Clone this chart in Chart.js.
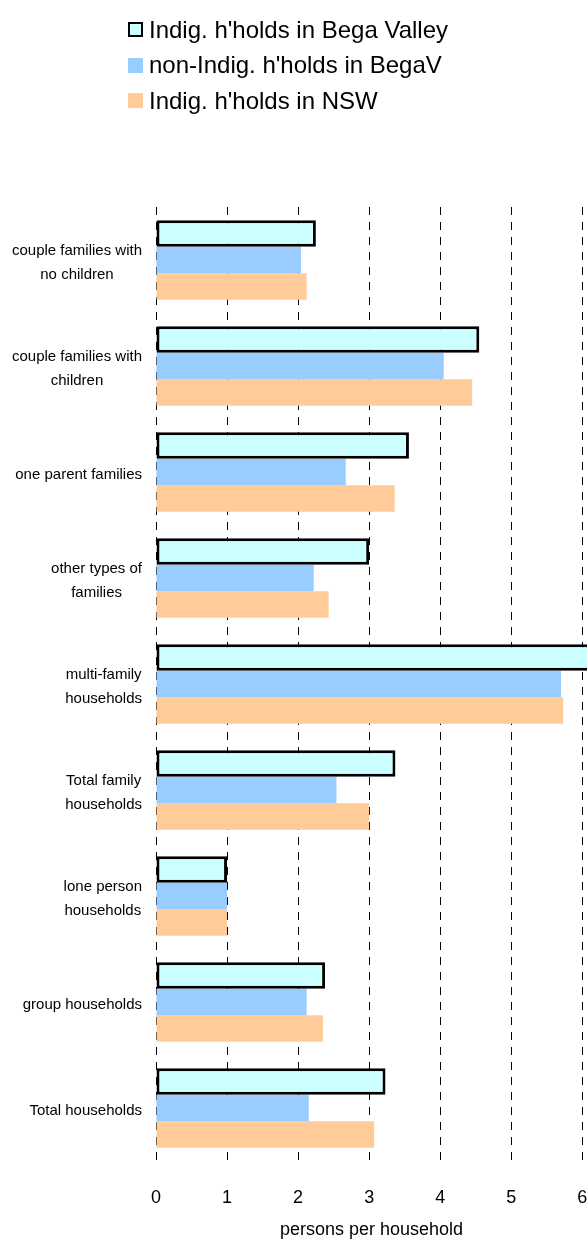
<!DOCTYPE html>
<html>
<head>
<meta charset="utf-8">
<script src="https://cdn.jsdelivr.net/npm/chart.js@4"></script>
<style>
    html, body { margin: 0; padding: 0; background: #fff; overflow: hidden; }
    #wrap { position: relative; width: 587px; height: 1239px; overflow: hidden; }
    #wrap canvas { display: block; }
    #legenda { position: absolute; left: 128px; top: 12px; font-family: "Liberation Sans", Arial, sans-serif; font-size: 24px; color: #000; }
    .item { display: flex; align-items: center; height: 35.5px; white-space: nowrap; }
    .caixa { width: 15px; height: 15px; margin-right: 6px; box-sizing: border-box; }
</style>
</head>
<body>
<div id="wrap">
    <canvas id="chartDomicilios" width="587" height="1239"></canvas>
    <div id="legenda"></div>
</div>
<script>
// categorias e séries (pessoas por domicílio)
const categorias = [
    ['couple families with', 'no children'],
    ['couple families with', 'children'],
    'one parent families',
    ['other types of', 'families'],
    ['multi-family', 'households'],
    ['Total family', 'households'],
    ['lone person', 'households'],
    'group households',
    'Total households'
];
const indigBegaValley = [2.25, 4.55, 3.56, 3.00, 6.40, 3.37, 1.00, 2.38, 3.23];
const naoIndigBegaV = [2.04, 4.05, 2.67, 2.22, 5.70, 2.54, 1.00, 2.12, 2.15];
const indigNSW = [2.12, 4.45, 3.36, 2.43, 5.73, 3.00, 1.00, 2.35, 3.07];
const ticksX = [0, 1, 2, 3, 4, 5, 6];

const CORES = {
    ciano: '#ccffff',
    azul: '#99ccff',
    laranja: '#ffcc99',
    preto: '#000000'
};

const FONTE = '"Liberation Sans", Arial, sans-serif';

// rótulos do eixo y: bloco alinhado à direita, linhas centralizadas
const rotulosY = {
    id: 'rotulosY',
    afterDraw(chart) {
        const ctx = chart.ctx;
        const escala = chart.scales.y;
        ctx.save();
        ctx.font = '15px ' + FONTE;
        ctx.fillStyle = '#000';
        ctx.textAlign = 'center';
        ctx.textBaseline = 'middle';
        chart.data.labels.forEach((rot, i) => {
            const linhas = Array.isArray(rot) ? rot : [rot];
            const larg = Math.max(...linhas.map(l => ctx.measureText(l).width));
            const cx = 142 - larg / 2;
            const y = escala.getPixelForValue(i);
            linhas.forEach((l, j) => {
                ctx.fillText(l, cx, y + 3 + (j - (linhas.length - 1) / 2) * 24);
            });
        });
        ctx.restore();
    }
};

const ctx = document.getElementById('chartDomicilios').getContext('2d');
const grafico = new Chart(ctx, {
    type: 'bar',
    data: {
        labels: categorias,
        datasets: [
            {
                label: "Indig. h'holds in Bega Valley",
                data: indigBegaValley,
                backgroundColor: CORES.ciano,
                borderColor: CORES.preto,
                borderWidth: 3,
                borderSkipped: false
            },
            {
                label: "non-Indig. h'holds in BegaV",
                data: naoIndigBegaV,
                backgroundColor: CORES.azul,
                borderWidth: 0
            },
            {
                label: "Indig. h'holds in NSW",
                data: indigNSW,
                backgroundColor: CORES.laranja,
                borderWidth: 0
            }
        ]
    },
    options: {
        responsive: false,
        animation: false,
        indexAxis: 'y',
        layout: { padding: { top: 207, left: 0, right: 0, bottom: 0 } },
        datasets: { bar: { categoryPercentage: 0.75, barPercentage: 1 } },
        plugins: {
            legend: { display: false },
            tooltip: { enabled: false }
        },
        scales: {
            x: {
                min: 0,
                max: 6.066,
                afterBuildTicks: (s) => { s.ticks = ticksX.map(v => ({ value: v })); },
                afterFit: (s) => {
                    s.height = 78;
                    s.paddingLeft = 0;
                    s.paddingRight = 0;
                },
                ticks: {
                    padding: 26,
                    color: '#000',
                    font: { family: FONTE, size: 18 }
                },
                grid: { color: '#000', lineWidth: 1, drawTicks: false },
                border: { display: false, dash: [8, 7] },
                title: {
                    display: true,
                    text: 'persons per household',
                    color: '#000',
                    font: { family: FONTE, size: 18, lineHeight: 1 },
                    padding: { top: 9, bottom: 0 }
                }
            },
            y: {
                ticks: { display: false },
                grid: { display: false },
                border: { display: false },
                afterFit: (s) => { s.width = 156; }
            }
        }
    },
    plugins: [rotulosY]
});

// legenda em HTML, na vertical
const legenda = document.getElementById('legenda');
grafico.data.datasets.forEach(ds => {
    const item = document.createElement('div');
    item.className = 'item';
    const caixa = document.createElement('span');
    caixa.className = 'caixa';
    caixa.style.background = ds.backgroundColor;
    if (ds.borderWidth) caixa.style.border = '2.5px solid #000';
    const texto = document.createElement('span');
    texto.textContent = ds.label;
    item.appendChild(caixa);
    item.appendChild(texto);
    legenda.appendChild(item);
});
</script>
</body>
</html>
